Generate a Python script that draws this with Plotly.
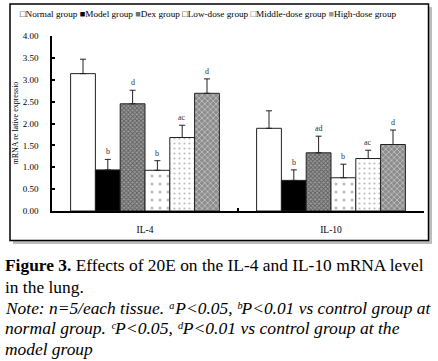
import plotly.graph_objects as go

categories = ["IL-4", "IL-10"]
groups = ["Normal group", "Model group", "Dex group", "Low-dose group", "Middle-dose group", "High-dose group"]
means = {
    "Normal group": [3.14, 1.89],
    "Model group": [0.94, 0.70],
    "Dex group": [2.45, 1.33],
    "Low-dose group": [0.93, 0.76],
    "Middle-dose group": [1.68, 1.20],
    "High-dose group": [2.69, 1.52],
}
errors = {
    "Normal group": [0.33, 0.40],
    "Model group": [0.24, 0.24],
    "Dex group": [0.31, 0.38],
    "Low-dose group": [0.22, 0.31],
    "Middle-dose group": [0.28, 0.19],
    "High-dose group": [0.33, 0.33],
}
sig_labels = {
    "Normal group": ["", ""],
    "Model group": ["b", "b"],
    "Dex group": ["d", "ad"],
    "Low-dose group": ["b", "b"],
    "Middle-dose group": ["ac", "ac"],
    "High-dose group": ["d", "d"],
}
y_ticks = [0, 0.5, 1.0, 1.5, 2.0, 2.5, 3.0, 3.5, 4.0]
y_range = [0, 4]

styles = {
    "Normal group": dict(color="white"),
    "Model group": dict(color="black"),
    "Dex group": dict(color="#8a8a8a", pattern=dict(shape="x", fgcolor="#222222", bgcolor="#9a9a9a", size=3, solidity=0.5)),
    "Low-dose group": dict(color="white", pattern=dict(shape=".", fgcolor="#777777", bgcolor="white", size=8, solidity=0.12)),
    "Middle-dose group": dict(color="white", pattern=dict(shape=".", fgcolor="#777777", bgcolor="white", size=5, solidity=0.15)),
    "High-dose group": dict(color="#a0a0a0", pattern=dict(shape="x", fgcolor="#f0f0f0", bgcolor="#8c8c8c", size=4, solidity=0.4)),
}
legend_glyph = {
    "Normal group": ("□", "black"),
    "Model group": ("■", "black"),
    "Dex group": ("■", "#707070"),
    "Low-dose group": ("□", "black"),
    "Middle-dose group": ("□", "#444444"),
    "High-dose group": ("■", "#9a9a9a"),
}

FONT = "Liberation Serif, Times New Roman, serif"

W, H = 438, 361
L, R, T, B = 52, 14, 36, 150
pw, ph = W - L - R, H - T - B


def px_x(v):
    return (v - L) / pw


def px_y(v):
    return (H - B - v) / ph


fig = go.Figure()
for g in groups:
    fig.add_trace(go.Bar(
        name=g, x=categories, y=means[g],
        marker=dict(line=dict(color="#222222", width=1), **styles[g]),
        error_y=dict(type="data", array=errors[g], arrayminus=[0] * len(categories),
                     symmetric=False, color="#222222", thickness=1, width=3),
        showlegend=False,
    ))
# empty trace that carries the overlay axes used for the inside tick marks
fig.add_trace(go.Scatter(x=[], y=[], xaxis="x2", yaxis="y2", showlegend=False, hoverinfo="skip"))

# significance letters above error bars
ngroups = len(groups)
bargap = 0.2
slot = pw / len(categories)
barw = slot * (1 - bargap) / ngroups
for gi, g in enumerate(groups):
    for ci, c in enumerate(categories):
        lab = sig_labels[g][ci]
        if not lab:
            continue
        fig.add_annotation(
            x=c, y=means[g][ci] + errors[g][ci], xref="x", yref="y",
            text=lab, showarrow=False, yanchor="bottom", yshift=1,
            xshift=(gi - (ngroups - 1) / 2) * barw,
            font=dict(family=FONT, size=8, color="#333333"),
        )

# legend drawn as a single text line
legend_text = " ".join(
    "<span style='color:%s'>%s</span>%s" % (legend_glyph[g][1], legend_glyph[g][0], g) for g in groups
)
fig.add_annotation(
    x=px_x(18), y=px_y(14), xref="paper", yref="paper",
    xanchor="left", yanchor="middle", showarrow=False, text=legend_text,
    font=dict(family=FONT, size=9.2, color="black"),
)

# y axis title
fig.add_annotation(
    x=px_x(15), y=0.5, xref="paper", yref="paper", textangle=-90,
    xanchor="center", yanchor="middle", showarrow=False,
    text="mRNA re lative expressio", font=dict(family=FONT, size=8, color="black"),
)

# outer frame with shadow (both below the plot)
fig.add_shape(type="rect", xref="paper", yref="paper", layer="below",
              x0=px_x(13), x1=px_x(432), y0=px_y(244), y1=px_y(7),
              fillcolor="#bdbdbd", line=dict(width=0))
fig.add_shape(type="rect", xref="paper", yref="paper", layer="below",
              x0=px_x(10), x1=px_x(428.5), y0=px_y(240.5), y1=px_y(4),
              fillcolor="white", line=dict(color="black", width=1.5))

# caption, one annotation per line
caption_lines = [
    "<b>Figure 3.</b> Effects of 20E on the IL-4 and IL-10 mRNA level",
    "in the lung.",
    "<i>Note: n=5/each tissue. ᵃP&lt;0.05, ᵇP&lt;0.01 vs control group at</i>",
    "<i>normal group. ᶜP&lt;0.05, ᵈP&lt;0.01 vs control group at the</i>",
    "<i>model group</i>",
]
caption_y = [265, 286.5, 308, 328.5, 348.5]
caption_size = [17.4, 17.4, 17.4, 17.6, 17.4]
for txt, yy, fs in zip(caption_lines, caption_y, caption_size):
    fig.add_annotation(
        x=px_x(3), y=px_y(yy), xref="paper", yref="paper", xanchor="left", yanchor="middle",
        align="left", showarrow=False, text=txt,
        font=dict(family=FONT, size=fs, color="black"),
    )

fig.update_layout(
    width=W, height=H, margin=dict(l=L, r=R, t=T, b=B),
    paper_bgcolor="white", plot_bgcolor="rgba(0,0,0,0)",
    barmode="group", bargap=bargap, bargroupgap=0,
    font=dict(family=FONT, size=9, color="black"),
    xaxis=dict(showline=True, linecolor="black", linewidth=2, ticks="outside", ticklen=9,
               tickcolor="rgba(0,0,0,0)", tickfont=dict(family=FONT, size=9.5), showgrid=False),
    yaxis=dict(range=y_range, tickvals=y_ticks, tickformat=".2f", showline=True,
               linecolor="black", linewidth=1.5, ticks="outside", ticklen=10,
               tickcolor="rgba(0,0,0,0)", tickfont=dict(family=FONT, size=9),
               showgrid=False, zeroline=False),
    xaxis2=dict(overlaying="x", anchor="y", range=[-0.5, len(categories) - 0.5],
                tickvals=[i - 0.5 for i in range(len(categories) + 1)], ticks="inside",
                ticklen=3, tickwidth=2, tickcolor="black", showticklabels=False,
                showgrid=False, zeroline=False, showline=False, side="bottom"),
    yaxis2=dict(overlaying="y", anchor="x", range=y_range, tickvals=y_ticks, ticks="inside",
                ticklen=3, tickwidth=1.5, tickcolor="black", showticklabels=False,
                showgrid=False, zeroline=False, showline=False, side="left"),
)

fig.write_html("out.html", config={"displayModeBar": False},
               post_script="document.body.style.margin='0';")
